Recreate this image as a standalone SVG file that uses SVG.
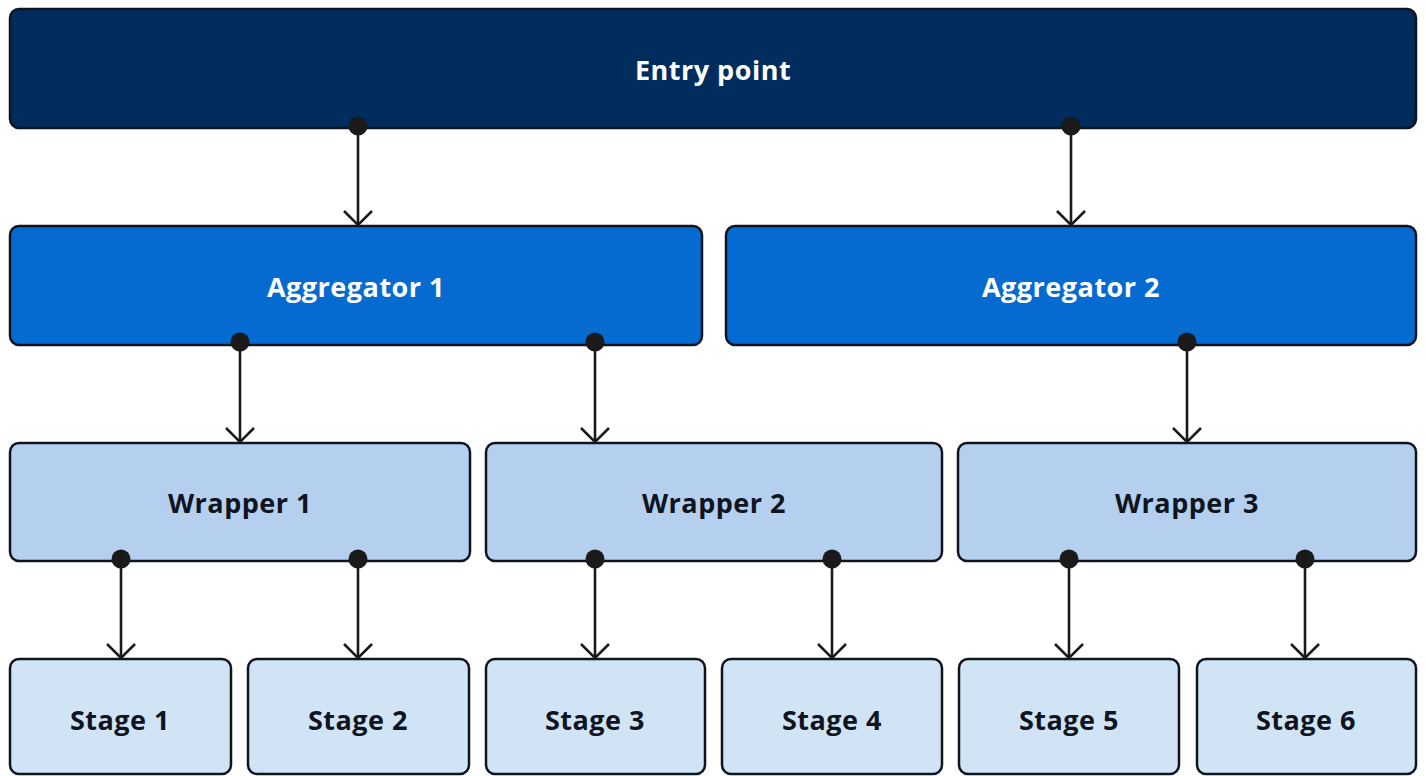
<svg xmlns="http://www.w3.org/2000/svg" width="1426" height="776" viewBox="0 0 1426 776">
<style>
.box{stroke:#0f141e;stroke-width:2.5}
.entry{fill:#012c5e}
.agg{fill:#066bd0}
.wrap{fill:#b4d0ee}
.stage{fill:#d1e4f5}
.lbl{font-family:"Open Sans","Liberation Sans",sans-serif;font-weight:700;font-size:27px;letter-spacing:0.5px;text-anchor:middle;dominant-baseline:central}
.w{fill:#ffffff}
.d{fill:#0f141e}
.conn{stroke:#1a1a1a;stroke-width:2.6;fill:none}
.dot{fill:#1a1a1a}
</style>
<defs>
<marker id="arr" viewBox="0 0 18 30" refX="15" refY="15" markerWidth="18" markerHeight="30" markerUnits="userSpaceOnUse" orient="auto">
<path d="M1,1 L15,15 L1,29" fill="none" stroke="#1a1a1a" stroke-width="2.6"/>
</marker>
</defs>
<rect width="1426" height="776" fill="#ffffff"/>
<g id="entry"><rect class="box entry" x="10" y="9" width="1406" height="119" rx="9"/><text class="lbl w" x="713" y="69">Entry point</text></g>
<g id="agg1"><rect class="box agg" x="10" y="226" width="692" height="119" rx="9"/><text class="lbl w" x="356" y="286">Aggregator 1</text></g>
<g id="agg2"><rect class="box agg" x="726" y="226" width="690" height="119" rx="9"/><text class="lbl w" x="1071" y="286">Aggregator 2</text></g>
<g id="wrap1"><rect class="box wrap" x="10" y="443" width="460" height="118" rx="9"/><text class="lbl d" x="240" y="502">Wrapper 1</text></g>
<g id="wrap2"><rect class="box wrap" x="486" y="443" width="456" height="118" rx="9"/><text class="lbl d" x="714" y="502">Wrapper 2</text></g>
<g id="wrap3"><rect class="box wrap" x="958" y="443" width="458" height="118" rx="9"/><text class="lbl d" x="1187" y="502">Wrapper 3</text></g>
<g id="stage1"><rect class="box stage" x="10" y="659" width="221" height="115" rx="9"/><text class="lbl d" x="120" y="719">Stage 1</text></g>
<g id="stage2"><rect class="box stage" x="248" y="659" width="221" height="115" rx="9"/><text class="lbl d" x="358" y="719">Stage 2</text></g>
<g id="stage3"><rect class="box stage" x="486" y="659" width="219" height="115" rx="9"/><text class="lbl d" x="595" y="719">Stage 3</text></g>
<g id="stage4"><rect class="box stage" x="722" y="659" width="220" height="115" rx="9"/><text class="lbl d" x="832" y="719">Stage 4</text></g>
<g id="stage5"><rect class="box stage" x="959" y="659" width="220" height="115" rx="9"/><text class="lbl d" x="1069" y="719">Stage 5</text></g>
<g id="stage6"><rect class="box stage" x="1197" y="659" width="219" height="115" rx="9"/><text class="lbl d" x="1306" y="719">Stage 6</text></g>
<g id="connectors">
<path class="conn" d="M358,126 V225" marker-end="url(#arr)"/><circle class="dot" cx="358" cy="126" r="9.5"/>
<path class="conn" d="M1071,126 V225" marker-end="url(#arr)"/><circle class="dot" cx="1071" cy="126" r="9.5"/>
<path class="conn" d="M240,342 V442" marker-end="url(#arr)"/><circle class="dot" cx="240" cy="342" r="9.5"/>
<path class="conn" d="M595,342 V442" marker-end="url(#arr)"/><circle class="dot" cx="595" cy="342" r="9.5"/>
<path class="conn" d="M1187,342 V442" marker-end="url(#arr)"/><circle class="dot" cx="1187" cy="342" r="9.5"/>
<path class="conn" d="M121,559 V658" marker-end="url(#arr)"/><circle class="dot" cx="121" cy="559" r="9.5"/>
<path class="conn" d="M358,559 V658" marker-end="url(#arr)"/><circle class="dot" cx="358" cy="559" r="9.5"/>
<path class="conn" d="M595,559 V658" marker-end="url(#arr)"/><circle class="dot" cx="595" cy="559" r="9.5"/>
<path class="conn" d="M832,559 V658" marker-end="url(#arr)"/><circle class="dot" cx="832" cy="559" r="9.5"/>
<path class="conn" d="M1069,559 V658" marker-end="url(#arr)"/><circle class="dot" cx="1069" cy="559" r="9.5"/>
<path class="conn" d="M1305,559 V658" marker-end="url(#arr)"/><circle class="dot" cx="1305" cy="559" r="9.5"/>
</g>
</svg>
